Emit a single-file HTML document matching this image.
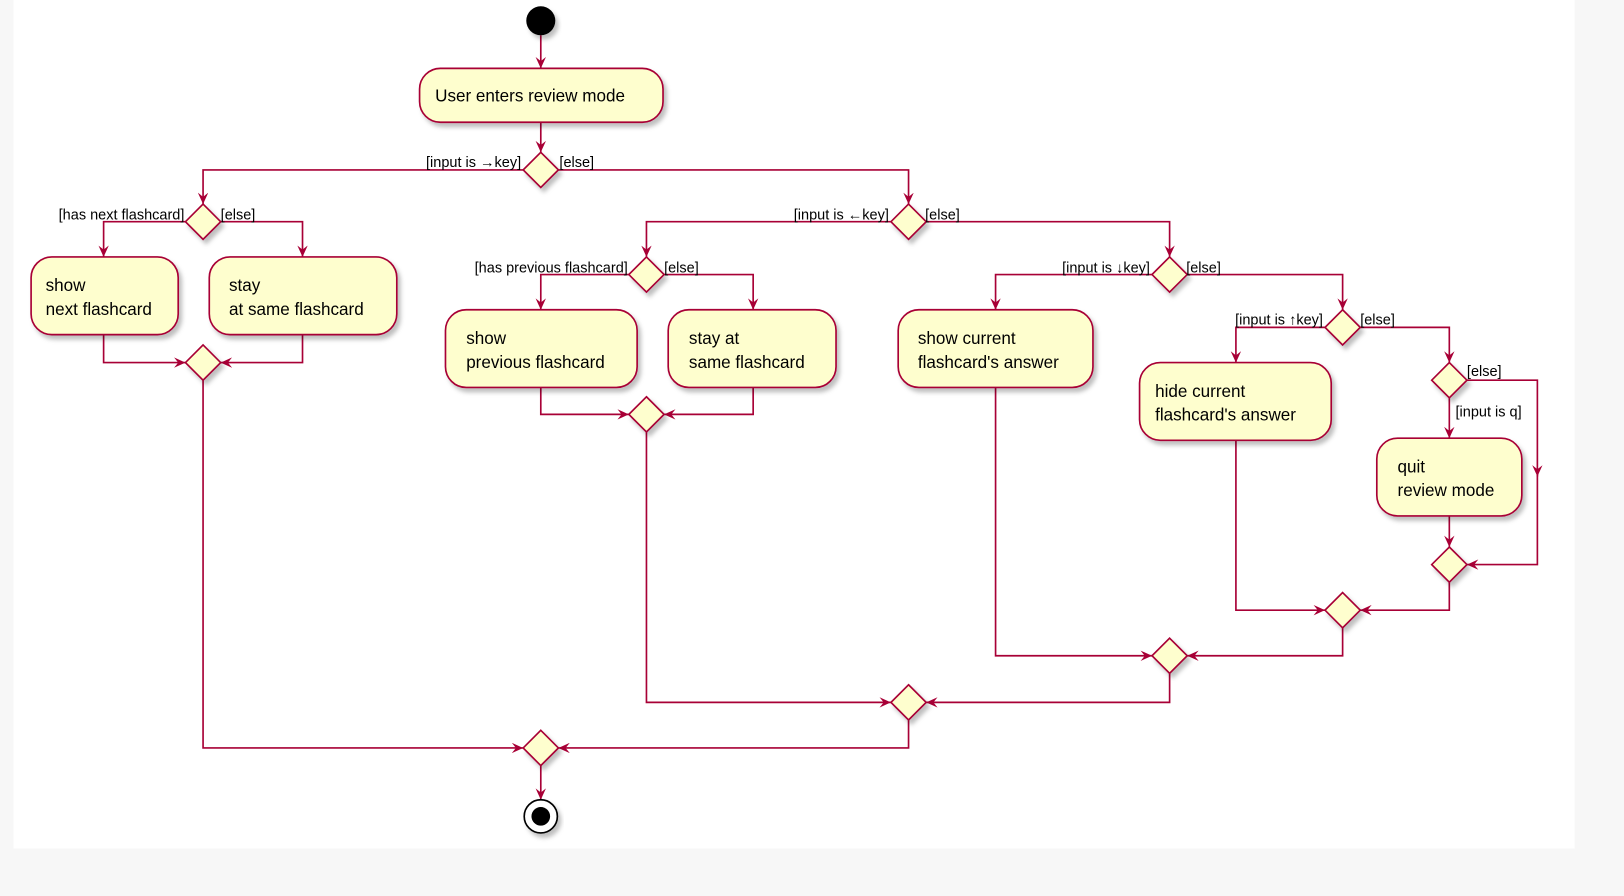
<!DOCTYPE html>
<html><head><meta charset="utf-8"><style>
html,body{margin:0;padding:0;background:#f7f7f7;}
svg{display:block}
text{font-family:"Liberation Sans",sans-serif;fill:#000}
.b{fill:#FEFECE;stroke:#A80036;stroke-width:1.6;filter:url(#sh)}
.l{fill:none;stroke:#A80036;stroke-width:1.6}
.t{font-size:16.5px}
.g{font-size:14px}
</style></head><body>
<svg width="1624" height="896" viewBox="0 0 1567.6 864.9" xmlns="http://www.w3.org/2000/svg">
<defs>
<filter id="sh" x="-20%" y="-20%" width="140%" height="150%"><feDropShadow dx="3" dy="4" stdDeviation="2" flood-color="#000" flood-opacity="0.25"/></filter>
<marker id="a" markerWidth="12" markerHeight="10" refX="11" refY="5" orient="auto" markerUnits="userSpaceOnUse"><path d="M0,0 L11,5 L0,10 L4,5 z" fill="#A80036"/></marker>
</defs>
<rect x="13" y="0" width="1507" height="819" fill="#fff"/>
<g class="l" marker-end="url(#a)">
<path d="M522,34 V66"/>
<path d="M522,118 V147"/>
<path d="M505,164 H196 V197"/>
<path d="M539,164 H877 V197"/>
<path d="M179,214 H100 V248"/>
<path d="M213,214 H292 V248"/>
<path d="M100,323 V350 H179"/>
<path d="M292,323 V350 H213"/>
<path d="M196,367 V722 H505"/>
<path d="M860,214 H624 V248"/>
<path d="M894,214 H1129 V248"/>
<path d="M607,265 H522 V299"/>
<path d="M641,265 H727 V299"/>
<path d="M522,374 V400 H607"/>
<path d="M727,374 V400 H641"/>
<path d="M624,417 V678 H860"/>
<path d="M1112,265 H961 V299"/>
<path d="M1146,265 H1296 V299"/>
<path d="M961,374 V633 H1112"/>
<path d="M1279,316 H1193 V350"/>
<path d="M1313,316 H1399 V350"/>
<path d="M1193,425 V589 H1279"/>
<path d="M1399,384 V423"/>
<path d="M1416,367 H1484 V460"/>
<path d="M1484,455 V545 H1416"/>
<path d="M1399,498 V528"/>
<path d="M1399,562 V589 H1313"/>
<path d="M1296,606 V633 H1146"/>
<path d="M1129,650 V678 H894"/>
<path d="M877,695 V722 H539"/>
<path d="M522,739 V772"/>
</g>
<circle cx="522" cy="20" r="14" fill="#000" filter="url(#sh)"/>
<circle cx="522" cy="788" r="16" fill="#fff" stroke="#000" stroke-width="1.6" filter="url(#sh)"/>
<circle cx="522" cy="788" r="9" fill="#000"/>
<g class="b">
<rect x="405" y="66" width="235" height="52" rx="20"/>
<rect x="30" y="248" width="142" height="75" rx="20"/>
<rect x="202" y="248" width="181" height="75" rx="20"/>
<rect x="430" y="299" width="185" height="75" rx="20"/>
<rect x="645" y="299" width="162" height="75" rx="20"/>
<rect x="867" y="299" width="188" height="75" rx="20"/>
<rect x="1100" y="350" width="185" height="75" rx="20"/>
<rect x="1329" y="423" width="140" height="75" rx="20"/>
<path d="M522,147 L539,164 L522,181 L505,164 Z"/>
<path d="M196,197 L213,214 L196,231 L179,214 Z"/>
<path d="M196,333 L213,350 L196,367 L179,350 Z"/>
<path d="M877,197 L894,214 L877,231 L860,214 Z"/>
<path d="M624,248 L641,265 L624,282 L607,265 Z"/>
<path d="M624,383 L641,400 L624,417 L607,400 Z"/>
<path d="M1129,248 L1146,265 L1129,282 L1112,265 Z"/>
<path d="M1296,299 L1313,316 L1296,333 L1279,316 Z"/>
<path d="M1399,350 L1416,367 L1399,384 L1382,367 Z"/>
<path d="M1399,528 L1416,545 L1399,562 L1382,545 Z"/>
<path d="M1296,572 L1313,589 L1296,606 L1279,589 Z"/>
<path d="M1129,616 L1146,633 L1129,650 L1112,633 Z"/>
<path d="M877,661 L894,678 L877,695 L860,678 Z"/>
<path d="M522,705 L539,722 L522,739 L505,722 Z"/>
</g>
<g class="t">
<text x="420" y="98">User enters review mode</text>
<text x="44" y="281">show</text><text x="44" y="304">next flashcard</text>
<text x="221" y="281">stay</text><text x="221" y="304">at same flashcard</text>
<text x="450" y="332">show</text><text x="450" y="355">previous flashcard</text>
<text x="665" y="332">stay at</text><text x="665" y="355">same flashcard</text>
<text x="886" y="332">show current</text><text x="886" y="355">flashcard's answer</text>
<text x="1115" y="383">hide current</text><text x="1115" y="406">flashcard's answer</text>
<text x="1349" y="456">quit</text><text x="1349" y="479">review mode</text>
</g>
<g class="g">
<text x="503" y="161" text-anchor="end">[input is →key]</text>
<text x="540" y="161">[else]</text>
<text x="178" y="212" text-anchor="end">[has next flashcard]</text>
<text x="213" y="212">[else]</text>
<text x="858" y="212" text-anchor="end">[input is ←key]</text>
<text x="893" y="212">[else]</text>
<text x="606" y="263" text-anchor="end">[has previous flashcard]</text>
<text x="641" y="263">[else]</text>
<text x="1110" y="263" text-anchor="end">[input is ↓key]</text>
<text x="1145" y="263">[else]</text>
<text x="1277" y="313" text-anchor="end">[input is ↑key]</text>
<text x="1313" y="313">[else]</text>
<text x="1416" y="363">[else]</text>
<text x="1405" y="402">[input is q]</text>
</g>
</svg>
</body></html>
